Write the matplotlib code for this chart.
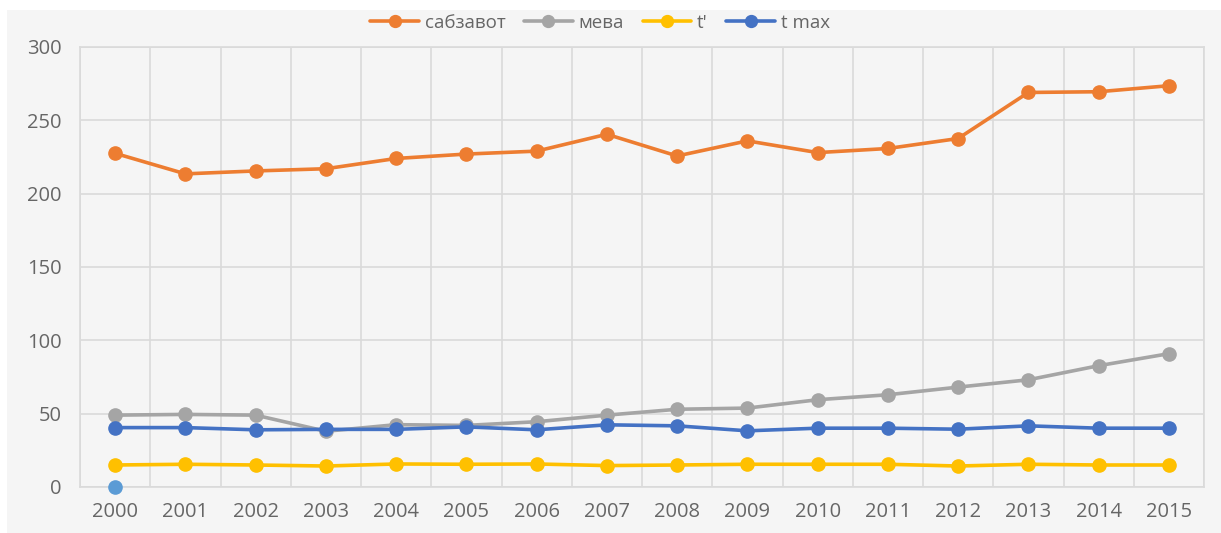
import matplotlib
matplotlib.use("Agg")
import matplotlib.pyplot as plt
from matplotlib.patches import Rectangle
import numpy as np

plt.rcParams['font.family'] = ['Open Sans', 'DejaVu Sans']

years = [str(y) for y in range(2000, 2016)]

sabzavot = [227.5, 213.5, 215.5, 217, 224, 227, 229, 240.5,
            225.7, 236, 228, 230.8, 237.6, 269, 269.5, 273.6]
meva = [49, 49.5, 49, 38, 42.5, 42, 44.5, 49,
        53, 53.8, 59.5, 62.9, 68.1, 73.1, 82.7, 90.9]
t_prime = [15, 15.5, 15, 14.3, 15.7, 15.5, 15.7, 14.6,
           15, 15.5, 15.5, 15.5, 14.3, 15.5, 15, 15]
t_max = [40.5, 40.5, 39, 39.3, 39.3, 41, 39, 42.4,
         41.7, 38.3, 40.1, 40.1, 39.4, 41.7, 40.1, 40.1]
extra_point = [0]

series = [
    ("сабзавот", sabzavot, "#ED7D31"),
    ("мева", meva, "#A5A5A5"),
    ("t'", t_prime, "#FFC000"),
    ("t max", t_max, "#4472C4"),
]

W, H = 1221, 533
fig = plt.figure(figsize=(W / 100, H / 100), dpi=100, facecolor="white")
fig.patches.append(Rectangle((7 / W, 0), 1 - 7 / W, 1 - 10 / H,
                             transform=fig.transFigure, facecolor="#f5f5f5",
                             edgecolor="none", zorder=-10))

ax = fig.add_axes([80 / W, 1 - 487 / H, (1204 - 80) / W, (487 - 47) / H])
ax.set_facecolor("#f5f5f5")

x = np.arange(len(years))
for name, vals, color in series:
    ax.plot(x, vals, color=color, lw=2.6, marker="o", markersize=9.5,
            label=name, zorder=3, solid_capstyle="round")

ax.plot(x[:1], extra_point, linestyle="none", marker="o", markersize=9.5,
        color="#5B9BD5", clip_on=False, zorder=4)

ax.set_xlim(-0.5, len(years) - 0.5)
ax.set_ylim(0, 300)
ax.set_yticks(np.arange(0, 301, 50))
ax.set_xticks(x)
ax.set_xticklabels(years)
ax.set_xticks(np.arange(-0.5, len(years), 1.0), minor=True)

ax.grid(axis="y", which="major", color="#dadada", lw=1.2)
ax.grid(axis="x", which="minor", color="#dadada", lw=1.2)
ax.grid(axis="x", which="major", visible=False)
ax.set_axisbelow(True)

for sp in ax.spines.values():
    sp.set_color("#dadada")
    sp.set_linewidth(1.2)

ax.tick_params(axis="both", which="both", length=0, colors="#666666",
               labelsize=14.5)
ax.tick_params(axis="y", pad=13)
ax.tick_params(axis="x", pad=11)

fig.legend(loc="center", bbox_to_anchor=(600 / W, 1 - 23 / H), ncol=4,
           frameon=False, fontsize=13.5, labelcolor="#666666",
           handlelength=2.6, handletextpad=0.3, columnspacing=1.0,
           markerscale=0.9)

fig.savefig("out.png", dpi=100, facecolor=fig.get_facecolor())
